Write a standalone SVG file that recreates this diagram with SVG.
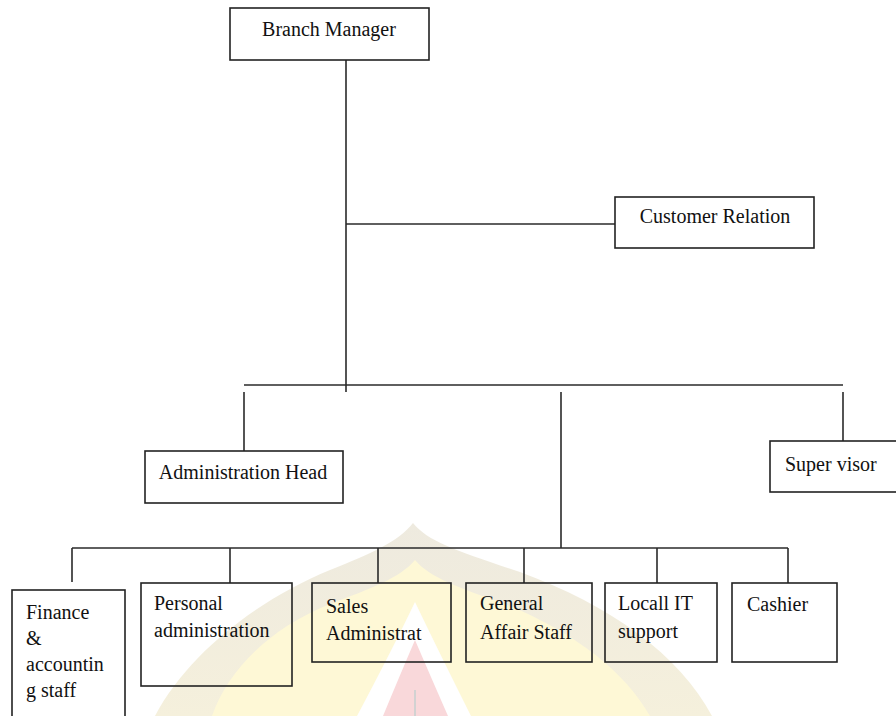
<svg xmlns="http://www.w3.org/2000/svg" width="896" height="716" viewBox="0 0 896 716">
<defs>
<style>
.box{fill:none;stroke:#222;stroke-width:1.6}
.ln{fill:none;stroke:#2a2a2a;stroke-width:1.6}
.t{font-family:'Liberation Serif','Times New Roman','DejaVu Serif',serif;font-size:20px;fill:#111}
</style>
<linearGradient id="beige" x1="0" y1="0" x2="0" y2="1">
<stop offset="0" stop-color="#eeeadf"/>
<stop offset="1" stop-color="#f5f0dc"/>
</linearGradient>
</defs>
<rect x="0" y="0" width="896" height="716" fill="#ffffff"/>
<g id="watermark">
<path d="M413,523 C398,542 372,553 330,570 C262,598 190,650 155,716 L712,716 C680,655 610,605 520,572 C460,552 428,542 413,523 Z" fill="url(#beige)"/>
<path d="M415,560 C400,578 372,588 330,604 C270,628 228,670 212,716 L650,716 C625,672 575,632 505,604 C460,588 430,578 415,560 Z" fill="#fef8d6"/>
<path d="M415,602 Q392,650 357,716 L471,716 Q438,650 415,602 Z" fill="#ffffff"/>
<path d="M415,640 Q400,675 383,716 L448,716 Q430,675 415,640 Z" fill="#f9d8da"/>
<line x1="415" y1="690" x2="415" y2="716" stroke="#d2d2d2" stroke-width="2"/>
</g>
<g id="connectors">
<line class="ln" x1="346" y1="60" x2="346" y2="392"/>
<line class="ln" x1="346" y1="224" x2="615" y2="224"/>
<line class="ln" x1="244" y1="385" x2="843" y2="385"/>
<line class="ln" x1="244" y1="392" x2="244" y2="451"/>
<line class="ln" x1="561" y1="392" x2="561" y2="548"/>
<line class="ln" x1="843" y1="392" x2="843" y2="441"/>
<line class="ln" x1="72" y1="548" x2="788" y2="548"/>
<line class="ln" x1="72" y1="548" x2="72" y2="582"/>
<line class="ln" x1="230" y1="548" x2="230" y2="583"/>
<line class="ln" x1="378" y1="548" x2="378" y2="583"/>
<line class="ln" x1="524" y1="548" x2="524" y2="583"/>
<line class="ln" x1="657" y1="548" x2="657" y2="583"/>
<line class="ln" x1="788" y1="548" x2="788" y2="583"/>
</g>
<g id="branch-manager">
<rect class="box" x="230" y="8" width="199" height="52"/>
<text class="t" font-family="Liberation Serif, serif" x="329" y="36" text-anchor="middle">Branch Manager</text>
</g>
<g id="customer-relation">
<rect class="box" x="615" y="197" width="199" height="51"/>
<text class="t" font-family="Liberation Serif, serif" x="715" y="223" text-anchor="middle">Customer Relation</text>
</g>
<g id="administration-head">
<rect class="box" x="145" y="451" width="198" height="52"/>
<text class="t" font-family="Liberation Serif, serif" x="243" y="479" text-anchor="middle">Administration Head</text>
</g>
<g id="supervisor">
<rect class="box" x="770" y="441" width="130" height="51"/>
<text class="t" font-family="Liberation Serif, serif" x="785" y="471">Super visor</text>
</g>
<g id="finance">
<rect class="box" x="12" y="590" width="113" height="130"/>
<text class="t" font-family="Liberation Serif, serif" x="26" y="619">Finance</text>
<text class="t" font-family="Liberation Serif, serif" x="26" y="645">&amp;</text>
<text class="t" font-family="Liberation Serif, serif" x="26" y="671">accountin</text>
<text class="t" font-family="Liberation Serif, serif" x="26" y="697">g staff</text>
</g>
<g id="personal-administration">
<rect class="box" x="141" y="583" width="151" height="103"/>
<text class="t" font-family="Liberation Serif, serif" x="154" y="610">Personal</text>
<text class="t" font-family="Liberation Serif, serif" x="154" y="637">administration</text>
</g>
<g id="sales-administrat">
<rect class="box" x="312" y="583" width="139" height="79"/>
<text class="t" font-family="Liberation Serif, serif" x="326" y="613">Sales</text>
<text class="t" font-family="Liberation Serif, serif" x="326" y="640">Administrat</text>
</g>
<g id="general-affair">
<rect class="box" x="466" y="583" width="126" height="79"/>
<text class="t" font-family="Liberation Serif, serif" x="480" y="610">General</text>
<text class="t" font-family="Liberation Serif, serif" x="480" y="639">Affair Staff</text>
</g>
<g id="local-it">
<rect class="box" x="605" y="583" width="112" height="79"/>
<text class="t" font-family="Liberation Serif, serif" x="618" y="610">Locall IT</text>
<text class="t" font-family="Liberation Serif, serif" x="618" y="638">support</text>
</g>
<g id="cashier">
<rect class="box" x="732" y="583" width="105" height="79"/>
<text class="t" font-family="Liberation Serif, serif" x="747" y="611">Cashier</text>
</g>
</svg>
